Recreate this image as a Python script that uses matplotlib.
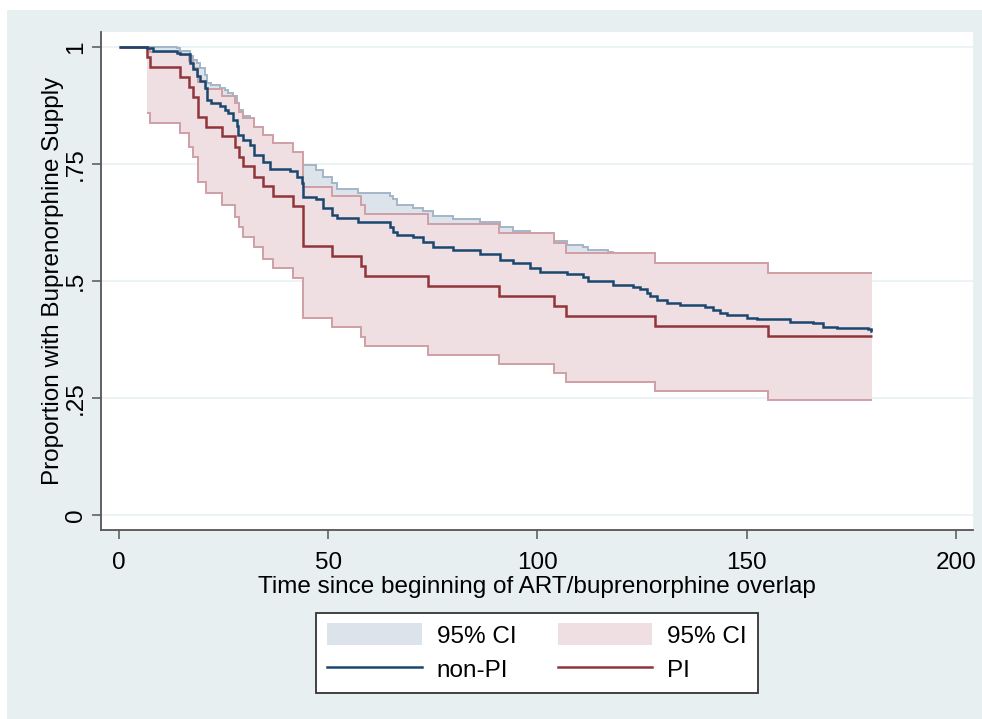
import matplotlib
matplotlib.use("Agg")
import matplotlib.pyplot as plt
from matplotlib.patches import Rectangle, Patch
from matplotlib.lines import Line2D

plt.rcParams['font.family'] = ['Liberation Sans', 'DejaVu Sans']

# ---------------- data ----------------
# PI group (Kaplan-Meier estimate and 95% CI)
pi_t = [0, 6.6, 7.4, 14.6, 16.8, 17.8, 18.8, 20.8, 24.5, 27.7, 28.8, 29.7, 32.3, 34.5,
        36.7, 41.7, 43.9, 50.8, 57.8, 58.9, 73.8, 90.9, 103.9, 106.9, 128.1, 155.2, 180]
pi_s = [1, .979, .957, .936, .915, .894, .851, .830, .809, .787, .766, .745, .723, .702,
        .681, .660, .574, .553, .532, .511, .489, .468, .447, .426, .404, .383, .383]
pi_lo = [1, .858, .838, .816, .787, .766, .712, .687, .662, .637, .616, .595, .573, .548,
         .527, .506, .420, .402, .381, .361, .342, .322, .303, .284, .264, .246, .246]
pi_hi = [1, .997, .990, .982, .970, .955, .925, .910, .895, .880, .862, .848, .830, .812,
         .794, .776, .701, .682, .662, .643, .622, .602, .581, .560, .539, .518, .518]

# non-PI group
npi_t = [0, 6.6, 8.2, 13.8, 14.6, 17.0, 17.8, 18.6, 19.4, 20.5, 21.0, 22.1, 24.1, 25.3,
         26.1, 27.3, 28.1, 28.5, 29.7, 31.3, 32.3, 34.5, 36.1, 40.9, 42.5, 43.7, 44.0,
         47.2, 48.8, 50.8, 52.0, 57.2, 64.8, 65.6, 66.4, 70.3, 72.7, 75.1, 79.9, 86.3,
         91.0, 94.2, 98.2, 100.6, 107.0, 110.9, 112.1, 116.9, 118.1, 122.9, 124.5, 126.1,
         126.9, 128.5, 130.9, 134.1, 140.0, 142.0, 143.6, 145.2, 150.0, 152.4, 160.3,
         165.9, 168.3, 171.5, 179.0, 179.7, 180]
npi_s = [1, .997, .991, .987, .984, .966, .952, .937, .927, .912, .887, .880, .873, .866,
         .859, .845, .831, .813, .802, .791, .769, .755, .740, .734, .723, .709, .680,
         .675, .655, .641, .634, .625, .615, .605, .598, .593, .584, .573, .566, .558,
         .545, .538, .527, .520, .514, .509, .501, .499, .491, .488, .482, .474,
         .467, .459, .454, .449, .445, .438, .432, .427, .422, .418, .413,
         .410, .402, .399, .397, .393, .393]
npi_lo = [1, .985, .975, .968, .962, .940, .925, .905, .893, .876, .847, .838, .830, .822,
          .814, .798, .782, .762, .750, .738, .715, .700, .682, .678, .666, .651, .620,
          .614, .593, .578, .571, .562, .552, .542, .534, .529, .519, .508, .500, .491,
          .477, .470, .458, .451, .445, .440, .431, .429, .420, .417, .410, .402,
          .395, .387, .381, .376, .372, .365, .358, .353, .347, .343, .338,
          .334, .326, .323, .320, .316, .316]
npi_hi = [1, 1.0, .999, .997, .992, .980, .972, .966, .955, .941, .922, .918, .912, .908,
          .901, .895, .878, .865, .852, .840, .822, .808, .792, .775, .765, .752, .748,
          .737, .722, .709, .696, .687, .682, .675, .662, .657, .650, .639, .632, .627,
          .615, .607, .600, .586, .577, .573, .566, .563, .550, .545, .540, .532,
          .525, .517, .512, .507, .503, .496, .490, .485, .480, .476, .471,
          .468, .460, .457, .455, .451, .451]

x_ticks = [0, 50, 100, 150, 200]
y_ticks = [0, .25, .5, .75, 1]
y_ticklabels = ['0', '.25', '.5', '.75', '1']
legend_labels = ['95% CI', 'non-PI', '95% CI', 'PI']

# ---------------- style ----------------
navy = '#1a476f'
maroon = '#90353b'
blue_fill = '#dce3ea'
blue_edge = '#a3b6c8'
pink_fill = '#efdfe2'
pink_edge = '#cfa0a5'
panel = '#e7eff1'
axcol = '#555555'

fig = plt.figure(figsize=(9.82, 7.19), dpi=100, facecolor='white')
fig.patches.append(Rectangle((7/982, 0), 1 - 7/982, 1 - 10/719, transform=fig.transFigure,
                             facecolor=panel, edgecolor='none', zorder=-10))

ax = fig.add_axes([101/982, 1 - 530/719, (973 - 101)/982, (530 - 32)/719])
ax.set_facecolor('white')

for yv in y_ticks:
    ax.axhline(yv, color='#e8f1f3', lw=1.2, zorder=0)

kw = dict(where='post', solid_capstyle='butt', solid_joinstyle='miter')
# non-PI CI
ax.fill_between(npi_t, npi_lo, npi_hi, step='post', facecolor=blue_fill, edgecolor='none', zorder=1)
ax.step(npi_t[1:-1], npi_hi[1:-1], color=blue_edge, lw=1.4, zorder=1.5, **kw)
ax.step(npi_t[1:-1], npi_lo[1:-1], color=blue_edge, lw=1.4, zorder=1.5, **kw)
# PI CI
ax.fill_between(pi_t[1:], pi_lo[1:], pi_hi[1:], step='post', facecolor=pink_fill, edgecolor='none', zorder=2)
ax.step(pi_t[1:], pi_hi[1:], color=pink_edge, lw=1.4, zorder=2.5, **kw)
ax.step(pi_t[1:], pi_lo[1:], color=pink_edge, lw=1.4, zorder=2.5, **kw)

ax.step(npi_t, npi_s, color=navy, lw=1.8, zorder=4, **kw)
ax.step(pi_t, pi_s, color=maroon, lw=1.8, zorder=3, **kw)

ax.set_xlim(-4.3, 204.1)
ax.set_ylim(-0.032, 1.032)
ax.set_xticks(x_ticks)
ax.set_yticks(y_ticks)
ax.set_yticklabels(y_ticklabels, rotation=90, va='center')

for s in ['top', 'right']:
    ax.spines[s].set_visible(False)
for s in ['left', 'bottom']:
    ax.spines[s].set_color(axcol)
    ax.spines[s].set_linewidth(1.3)
ax.tick_params(axis='both', colors=axcol, length=6.5, width=1.1, labelsize=17.5,
               labelcolor='black')
ax.tick_params(axis='x', pad=9)
ax.tick_params(axis='y', pad=3.5)

ax.set_xlabel('Time since beginning of ART/buprenorphine overlap', fontsize=17.5, labelpad=2)
ax.set_ylabel('Proportion with Buprenorphine Supply', fontsize=17.5, labelpad=1)

handles = [Patch(facecolor=blue_fill, edgecolor='none'),
           Line2D([], [], color=navy, lw=1.8),
           Patch(facecolor=pink_fill, edgecolor='none'),
           Line2D([], [], color=maroon, lw=1.8)]
leg = fig.legend(handles, legend_labels, ncol=2, loc='center',
                 bbox_to_anchor=(537/982, 1 - 652.5/719), fontsize=17.5,
                 frameon=True, fancybox=False, edgecolor='#333333', facecolor='white',
                 framealpha=1, handlelength=3.9, handleheight=1.0, handletextpad=0.6,
                 columnspacing=1.7, labelspacing=0.4, borderpad=0.45)
leg.get_frame().set_linewidth(1.3)

fig.savefig('out.png', dpi=100, facecolor='white')
